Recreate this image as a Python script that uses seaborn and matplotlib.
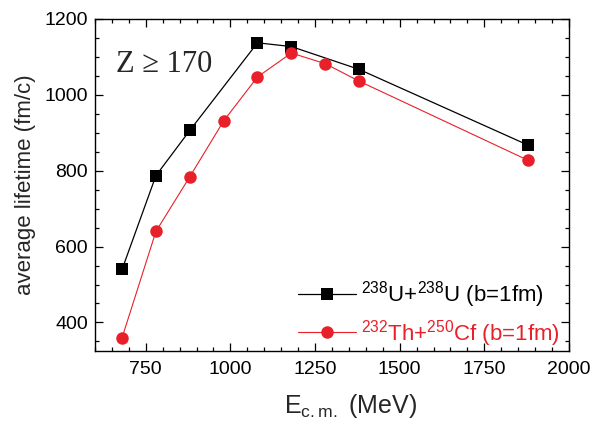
import seaborn as sns
import matplotlib.pyplot as plt
from matplotlib.ticker import MultipleLocator
import pandas as pd

# energies (MeV) and average lifetimes (fm/c)
e_uu = [680, 780, 880, 1080, 1180, 1380, 1880]
t_uu = [540, 787, 906, 1137, 1127, 1067, 867]
e_thcf = [680, 780, 880, 980, 1080, 1180, 1280, 1380, 1880]
t_thcf = [360, 640, 784, 931, 1047, 1110, 1082, 1036, 827]
label_uu = r'$^{238}$U+$^{238}$U (b=1fm)'
label_thcf = r'$^{232}$Th+$^{250}$Cf (b=1fm)'

df_uu = pd.DataFrame({'E': e_uu, 't': t_uu})
df_thcf = pd.DataFrame({'E': e_thcf, 't': t_thcf})

sns.set_style('ticks')
plt.rcParams['font.family'] = ['Liberation Sans', 'DejaVu Sans']
plt.rcParams['mathtext.fontset'] = 'custom'
plt.rcParams['mathtext.rm'] = 'Liberation Sans'

fig = plt.figure(figsize=(5.92, 4.29), dpi=100)
ax = fig.add_axes([0.1605, 0.182, 0.8005, 0.774])

red = '#e8202a'
sns.lineplot(data=df_uu, x='E', y='t', ax=ax, color='black', lw=0.9,
             marker='s', markersize=8, markeredgewidth=0, label=label_uu)
sns.lineplot(data=df_thcf, x='E', y='t', ax=ax, color=red, lw=0.8,
             marker='o', markersize=9, markeredgewidth=0, label=label_thcf)

ax.set_xlim(600, 2000)
ax.set_ylim(325, 1200)
ax.xaxis.set_major_locator(MultipleLocator(250))
ax.xaxis.set_minor_locator(MultipleLocator(50))
ax.yaxis.set_major_locator(MultipleLocator(200))
ax.yaxis.set_minor_locator(MultipleLocator(50))
ax.tick_params(which='both', direction='in', top=True, right=True,
               labelsize=14, width=0.9, color='black', labelcolor='black')
ax.tick_params(which='major', length=6)
ax.tick_params(which='minor', length=3)
ax.tick_params(axis='x', pad=7)
ax.tick_params(axis='y', pad=5)
ax.set_yticks([400, 600, 800, 1000, 1200])
for s in ax.spines.values():
    s.set_linewidth(1.0)
    s.set_color('black')

ax.set_xlabel(r'E$_{\rm c.m.}$ (MeV)', fontsize=18, labelpad=4)
ax.xaxis.set_label_coords(0.54, -0.125)
ax.set_ylabel('average lifetime (fm/c)', fontsize=16, labelpad=6)

ax.text(0.045, 0.84, 'Z ≥ 170', transform=ax.transAxes, fontsize=22,
        family=['Liberation Serif', 'DejaVu Serif'])

leg = ax.legend(loc='lower right', bbox_to_anchor=(0.985, 0.0),
                frameon=False, fontsize=16,
                handlelength=2.6, handletextpad=0.22, labelspacing=0.35,
                borderaxespad=0.0, borderpad=0.1)
for txt, col in zip(leg.get_texts(), ['black', red]):
    txt.set_color(col)

fig.savefig('out.png', dpi=100)
